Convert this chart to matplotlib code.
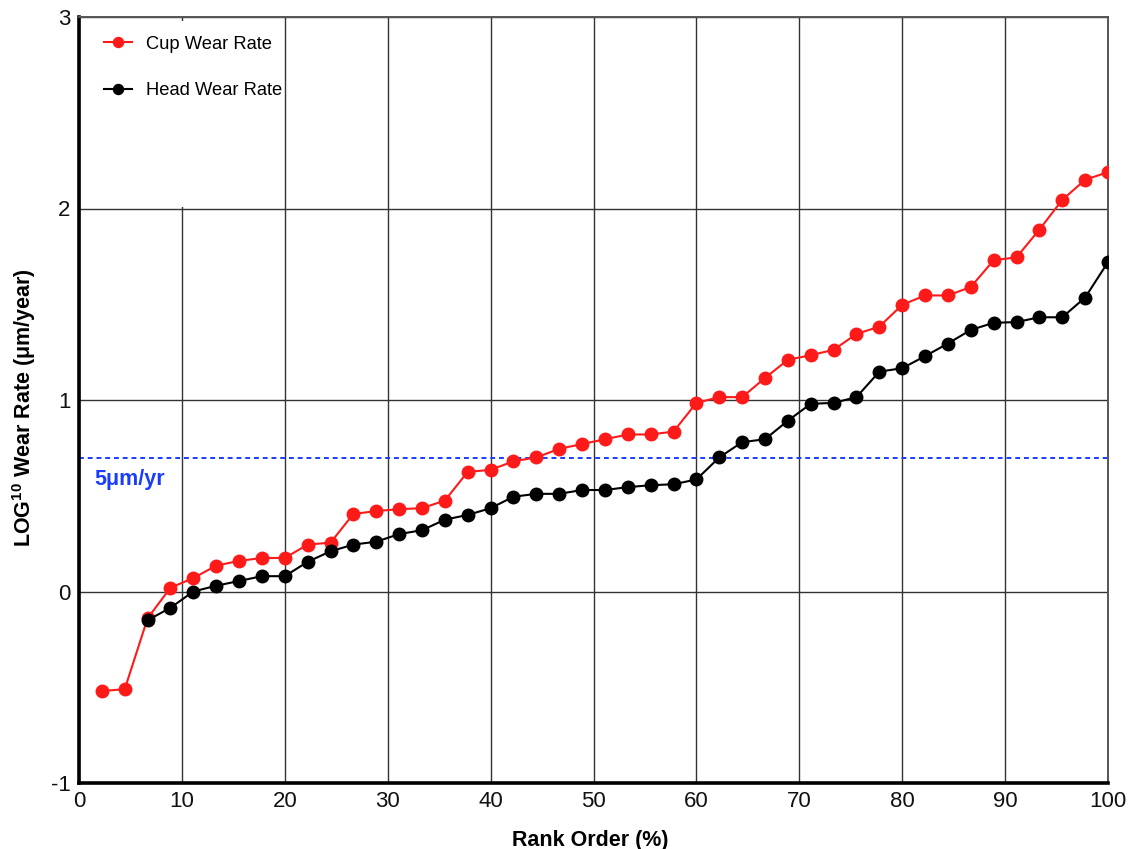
import numpy as np
import matplotlib
matplotlib.use("Agg")
import matplotlib.pyplot as plt
from matplotlib.patches import Rectangle

# ---- data ----
n_points = 45
rank = [100.0 * (i + 1) / n_points for i in range(n_points)]

cup_wear = [-0.52, -0.51, -0.14, 0.02, 0.07, 0.135, 0.16, 0.175, 0.175, 0.245,
            0.255, 0.405, 0.42, 0.43, 0.435, 0.475, 0.625, 0.635, 0.68, 0.70,
            0.745, 0.77, 0.795, 0.82, 0.82, 0.835, 0.985, 1.015, 1.015, 1.115,
            1.21, 1.234, 1.262, 1.345, 1.383, 1.497, 1.546, 1.546, 1.59, 1.73,
            1.745, 1.89, 2.045, 2.15, 2.19]

head_rank = rank[2:]
head_wear = [-0.15, -0.085, 0.0, 0.03, 0.055, 0.08, 0.08, 0.155, 0.21, 0.245,
             0.26, 0.30, 0.32, 0.375, 0.40, 0.435, 0.495, 0.51, 0.51, 0.53,
             0.53, 0.545, 0.555, 0.56, 0.585, 0.70, 0.78, 0.795, 0.892, 0.98,
             0.985, 1.015, 1.148, 1.166, 1.229, 1.295, 1.366, 1.403, 1.407, 1.432,
             1.432, 1.535, 1.72]

threshold = np.log10(5)
threshold_label = "5\u03bcm/yr"
xticks = [0, 10, 20, 30, 40, 50, 60, 70, 80, 90, 100]
yticks = [-1, 0, 1, 2, 3]

plt.rcParams['font.family'] = ['Liberation Sans', 'DejaVu Sans']
plt.rcParams['mathtext.fontset'] = 'custom'
plt.rcParams['mathtext.rm'] = 'Liberation Sans'
plt.rcParams['mathtext.bf'] = 'Liberation Sans:bold'
plt.rcParams['axes.unicode_minus'] = False

fig = plt.figure(figsize=(11.3, 8.49), dpi=100)
ax = fig.add_axes([79 / 1130, 1 - 783 / 849, (1108 - 79) / 1130, (783 - 17) / 849])

ax.set_xlim(0, 100)
ax.set_ylim(-1, 3)
ax.set_xticks(xticks)
ax.set_yticks(yticks)
ax.tick_params(length=0, labelsize=16, pad=6, colors='#111111')
ax.set_axisbelow(True)
ax.grid(True, color='#333333', linewidth=1.0, zorder=0.5)

for side in ('left', 'bottom'):
    ax.spines[side].set_linewidth(2.6)
    ax.spines[side].set_color('black')
for side in ('top', 'right'):
    ax.spines[side].set_linewidth(1.4)
    ax.spines[side].set_color('#555555')

# white area behind legend
ax.add_patch(Rectangle((0.2, 2.006), 19.4, 0.975, facecolor='white',
                       edgecolor='none', zorder=1))

ax.axhline(threshold, color='#1a3cff', linestyle=(0, (2.5, 2)), linewidth=1.4, zorder=2)
ax.text(1.5, 0.585, threshold_label, color='#1a3cff', fontsize=15.5,
        fontweight='bold', va='center', ha='left', zorder=3)

ax.plot(rank, cup_wear, color='#ff1a1a', marker='o', markersize=9,
        linewidth=1.5, label='Cup Wear Rate', zorder=4)
ax.plot(head_rank, head_wear, color='black', marker='o', markersize=9,
        linewidth=1.5, label='Head Wear Rate', zorder=5)

leg = ax.legend(loc='upper left', bbox_to_anchor=(0.008, 0.997), frameon=False,
                fontsize=13.2, labelspacing=1.6, handlelength=1.55,
                handletextpad=0.75, markerscale=0.8)

ax.set_xlabel('Rank Order (%)', fontsize=15.5, fontweight='bold')
ax.xaxis.set_label_coords(0.4966, -0.061)
ax.set_ylabel('LOG$^{\\mathbf{10}}$ Wear Rate (\u03bcm/year)', fontsize=15.5,
              fontweight='bold')
ax.yaxis.set_label_coords(-0.040, 0.49)

fig.savefig('out.png', dpi=100, facecolor='white')
